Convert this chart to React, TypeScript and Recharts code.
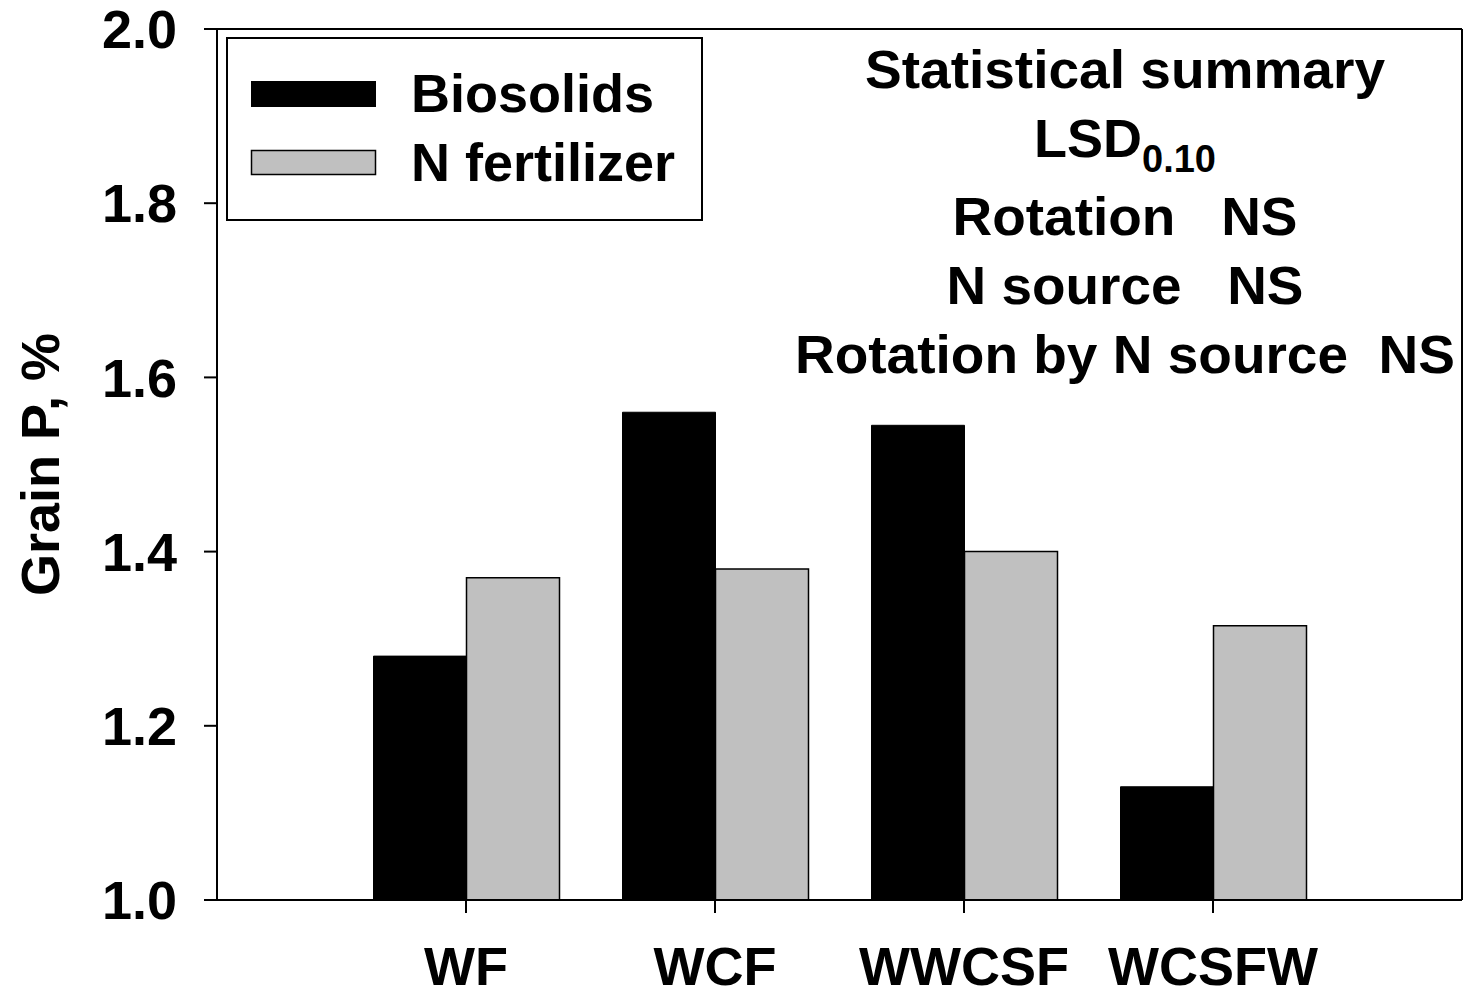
import React from "react";
import {
  BarChart,
  Bar,
  XAxis,
  YAxis,
  Legend,
  Customized,
} from "recharts";

const categories = ["WF", "WCF", "WWCSF", "WCSFW"];
const biosolids = [1.28, 1.56, 1.545, 1.13];
const nFertilizer = [1.37, 1.38, 1.4, 1.315];
const yTicks = [1.0, 1.2, 1.4, 1.6, 1.8, 2.0];

const seriesNames = ["Biosolids", "N fertilizer"];
const summaryLines = [
  "Rotation   NS",
  "N source   NS",
  "Rotation by N source  NS",
];

const data = categories.map((name, i) => ({
  name,
  biosolids: biosolids[i],
  nFertilizer: nFertilizer[i],
}));

const FONT = "'Liberation Sans', Arial, sans-serif";
const NARROW = "'Liberation Sans Narrow', 'Liberation Sans', Arial, sans-serif";

const LegendBox = () => (
  <svg width={477} height={184} style={{ display: "block" }}>
    <rect x={1} y={1} width={475} height={182} fill="#fff" stroke="#000" strokeWidth={2} />
    <rect x={25} y={44} width={125} height={26} fill="#000" />
    <rect x={25.5} y={113.5} width={124} height={24} fill="#c0c0c0" stroke="#000" strokeWidth={1.5} />
    <text x={185} y={75} fontFamily={FONT} fontWeight="bold" fontSize={54} fill="#000">
      {seriesNames[0]}
    </text>
    <text x={185} y={144} fontFamily={FONT} fontWeight="bold" fontSize={54} fill="#000">
      {seriesNames[1]}
    </text>
  </svg>
);

// statistical summary text block at top right
const Summary = () => {
  const cx = 1125;
  const widths = [345, 357, 660];
  return (
    <g fontFamily={NARROW} fontWeight="bold" fontSize={54} fill="#000">
      <text x={cx} y={88} textAnchor="middle" textLength={520} lengthAdjust="spacingAndGlyphs">
        Statistical summary
      </text>
      <text x={cx} y={157} textAnchor="middle">
        <tspan>LSD</tspan>
        <tspan fontSize={38} dy={15}>0.10</tspan>
      </text>
      {summaryLines.map((line, i) => (
        <text
          key={line}
          x={cx}
          y={235 + i * 69}
          textAnchor="middle"
          textLength={widths[i]}
          lengthAdjust="spacingAndGlyphs"
          style={{ whiteSpace: "pre" }}
        >
          {line}
        </text>
      ))}
    </g>
  );
};

export default function App() {
  return (
    <div style={{ width: 1463, height: 995 }}>
      <style>{`body{margin:0}`}</style>
      <BarChart
        width={1463}
        height={995}
        data={data}
        margin={{ top: 28, right: 0, bottom: 0, left: 0 }}
        barSize={93}
        barGap={0}
      >
        <XAxis
          dataKey="name"
          height={95}
          interval={0}
          padding={{ left: 124.5, right: 124.5 }}
          axisLine={{ stroke: "#000", strokeWidth: 2 }}
          tickLine={{ stroke: "#000", strokeWidth: 2 }}
          tickSize={13}
          tickMargin={34}
          tick={{ fill: "#000", fontFamily: FONT, fontWeight: "bold", fontSize: 54 }}
        />
        <XAxis
          xAxisId="top"
          dataKey="name"
          orientation="top"
          height={1}
          tick={false}
          tickLine={false}
          axisLine={{ stroke: "#000", strokeWidth: 2 }}
        />
        <YAxis
          width={217}
          domain={[1, 2]}
          ticks={yTicks}
          interval={0}
          allowDataOverflow
          tickFormatter={(v: number) => v.toFixed(1)}
          axisLine={{ stroke: "#000", strokeWidth: 2 }}
          tickLine={{ stroke: "#000", strokeWidth: 2 }}
          tickSize={13}
          tickMargin={27}
          tick={{ fill: "#000", fontFamily: FONT, fontWeight: "bold", fontSize: 54 }}
          label={{
            content: ({ viewBox }: any) => (
              <text
                transform={`translate(${(viewBox?.x ?? 0) + 59}, ${(viewBox?.y ?? 29) + (viewBox?.height ?? 871) / 2}) rotate(-90)`}
                textAnchor="middle"
                fontFamily={FONT}
                fontWeight="bold"
                fontSize={54}
                fill="#000"
              >
                Grain P, %
              </text>
            ),
          }}
        />
        <YAxis
          yAxisId="right"
          orientation="right"
          width={1}
          domain={[1, 2]}
          tick={false}
          tickLine={false}
          axisLine={{ stroke: "#000", strokeWidth: 2 }}
        />
        <Legend
          layout="vertical"
          verticalAlign="middle"
          align="center"
          content={() => <LegendBox />}
          wrapperStyle={{ left: 226, top: 37, width: 477, height: 184 }}
        />
        <Bar
          dataKey="biosolids"
          name={seriesNames[0]}
          fill="#000"
          stroke="#000"
          strokeWidth={1}
          isAnimationActive={false}
        />
        <Bar
          dataKey="nFertilizer"
          name={seriesNames[1]}
          fill="#c0c0c0"
          stroke="#000"
          strokeWidth={1.5}
          isAnimationActive={false}
        />
        <Customized component={Summary} />
      </BarChart>
    </div>
  );
}
